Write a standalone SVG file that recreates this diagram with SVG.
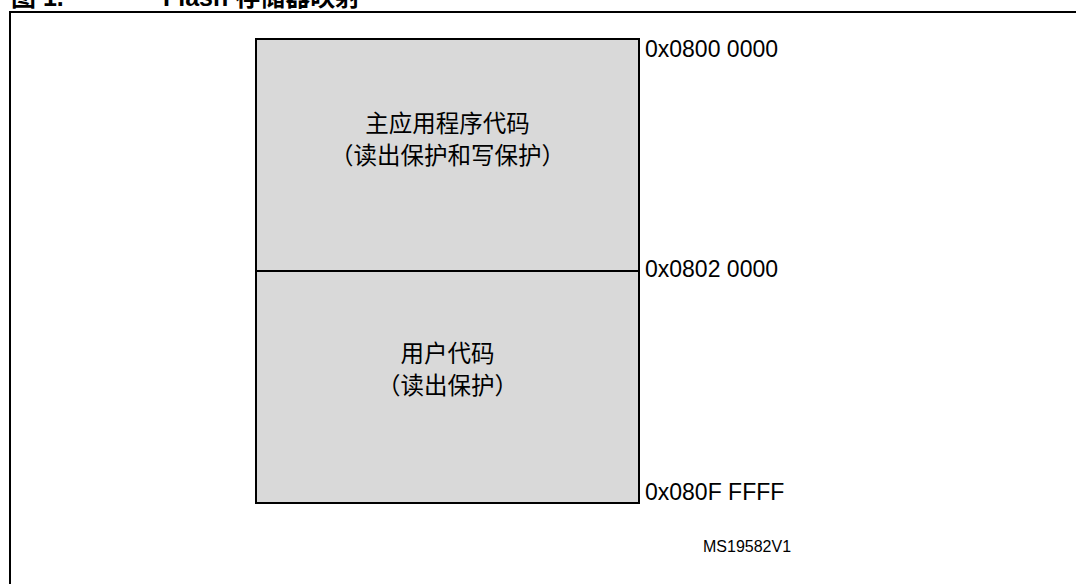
<svg xmlns="http://www.w3.org/2000/svg" width="1076" height="584" viewBox="0 0 1076 584">
  <style>
    .title { font-family: "Liberation Sans", Arial, "Noto Sans CJK SC", sans-serif; font-weight: bold; font-size: 25px; fill: #000; }
    .cjk { font-family: "Noto Sans CJK SC", "Liberation Sans", sans-serif; font-size: 23.5px; fill: #000; text-anchor: middle; }
    .addr { font-family: "Liberation Sans", Arial, sans-serif; font-size: 23px; fill: #000; }
    .ref { font-family: "Liberation Sans", Arial, sans-serif; font-size: 16px; fill: #000; }
    .box { fill: #d9d9d9; stroke: #000; stroke-width: 2; }
  </style>
  <rect x="0" y="0" width="1076" height="584" fill="#fff"/>
  <g id="title">
    <text class="title" x="11" y="6">图 1.</text>
    <text class="title" x="163" y="6">Flash 存储器映射</text>
  </g>
  <g id="frame">
    <path d="M10,1000 V12 H1100" fill="none" stroke="#000" stroke-width="2"/>
  </g>
  <g id="main-app">
    <rect class="box" x="256" y="39" width="383" height="232"/>
    <text class="cjk" x="447.5" y="132">主应用程序代码</text>
    <text class="cjk" x="447.5" y="164">（读出保护和写保护）</text>
  </g>
  <g id="user-code">
    <rect class="box" x="256" y="271" width="383" height="232"/>
    <text class="cjk" x="447.5" y="362">用户代码</text>
    <text class="cjk" x="447.5" y="394">（读出保护）</text>
  </g>
  <g id="addresses">
    <text class="addr" x="645" y="57">0x0800 0000</text>
    <text class="addr" x="645" y="277">0x0802 0000</text>
    <text class="addr" x="645" y="500">0x080F FFFF</text>
  </g>
  <g id="connectors"></g>
  <text class="ref" x="703" y="552">MS19582V1</text>
</svg>
